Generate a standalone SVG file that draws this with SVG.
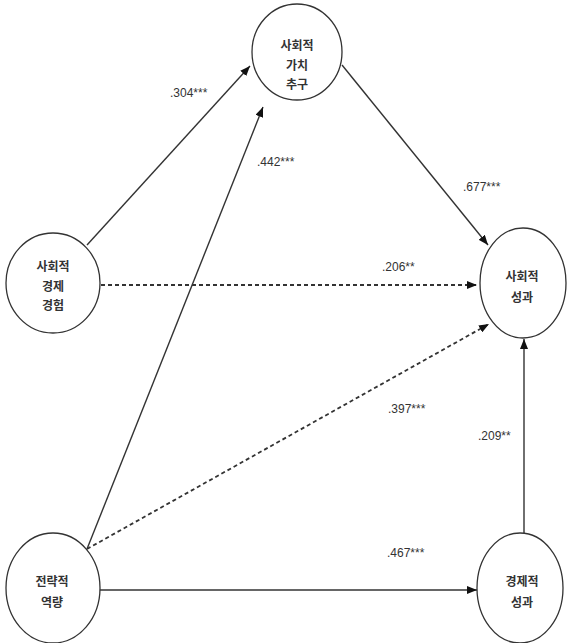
<svg xmlns="http://www.w3.org/2000/svg" width="568" height="643" viewBox="0 0 568 643">
<style>
.node ellipse{fill:#fff;stroke:#333;stroke-width:1.3}
.node text{font-family:"Noto Sans CJK KR","Noto Sans",sans-serif;font-size:12px;font-weight:bold;fill:#333;text-anchor:middle}
.edge{stroke:#333;stroke-width:1.4;fill:none;marker-end:url(#arr)}
.dash{stroke-dasharray:4 3;stroke-width:1.8}
.lbl{font-family:"Liberation Sans",Arial,sans-serif;font-size:12px;fill:#333}
</style>
<defs>
<marker id="arr" markerUnits="userSpaceOnUse" markerWidth="11" markerHeight="8" refX="10" refY="4" orient="auto">
<path d="M0,0 L10,4 L0,8 z" fill="#111"/>
</marker>
</defs>
<rect width="568" height="643" fill="#fff"/>
<g id="connectors">
<line class="edge" x1="87" y1="245" x2="250" y2="66"/>
<line class="edge" x1="87" y1="549" x2="263" y2="107"/>
<line class="edge" x1="342" y1="65" x2="488" y2="245"/>
<line class="edge dash" x1="101" y1="285" x2="477" y2="285"/>
<line class="edge dash" x1="87" y1="549" x2="489" y2="324"/>
<line class="edge" x1="524" y1="533" x2="524" y2="339"/>
<line class="edge" x1="100" y1="590" x2="477" y2="590"/>
</g>
<g id="labels">
<text class="lbl" x="170" y="97">.304***</text>
<text class="lbl" x="257" y="166">.442***</text>
<text class="lbl" x="463" y="191">.677***</text>
<text class="lbl" x="382" y="271">.206**</text>
<text class="lbl" x="388" y="413">.397***</text>
<text class="lbl" x="478" y="440">.209**</text>
<text class="lbl" x="387" y="557">.467***</text>
</g>
<g id="n-social-value" class="node">
<ellipse cx="297" cy="52" rx="45" ry="48"/>
<text x="297" y="50">사회적</text>
<text x="297" y="70">가치</text>
<text x="297" y="89">추구</text>
</g>
<g id="n-social-econ-exp" class="node">
<ellipse cx="53" cy="283" rx="47" ry="50"/>
<text x="53" y="271">사회적</text>
<text x="53" y="291">경제</text>
<text x="53" y="310">경험</text>
</g>
<g id="n-social-perf" class="node">
<ellipse cx="523" cy="283" rx="43" ry="55"/>
<text x="522" y="281">사회적</text>
<text x="522" y="302">성과</text>
</g>
<g id="n-strategic" class="node">
<ellipse cx="53" cy="588" rx="47" ry="55"/>
<text x="52" y="586">전략적</text>
<text x="52" y="607">역량</text>
</g>
<g id="n-econ-perf" class="node">
<ellipse cx="520" cy="588" rx="43" ry="55"/>
<text x="522" y="586">경제적</text>
<text x="522" y="607">성과</text>
</g>
</svg>
